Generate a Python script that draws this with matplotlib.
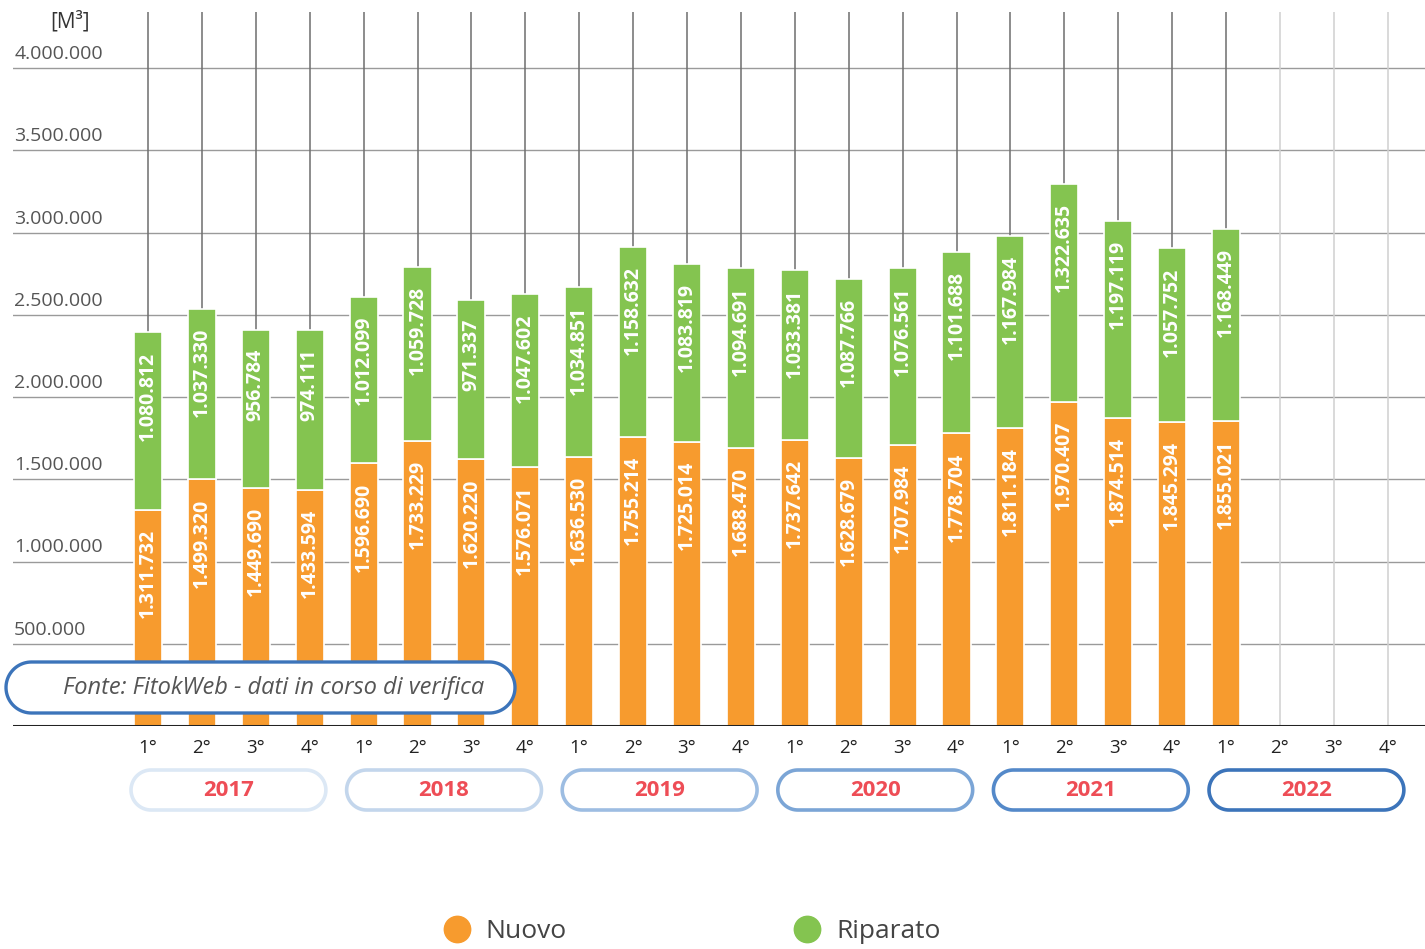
import matplotlib
matplotlib.use("Agg")
import numpy as np
import matplotlib.pyplot as plt
from matplotlib.patches import PathPatch
from matplotlib.path import Path
from matplotlib.lines import Line2D
import matplotlib.transforms as mtransforms

# ---------------- data ----------------
years = ["2017", "2018", "2019", "2020", "2021", "2022"]
quarters = ["1°", "2°", "3°", "4°"]
nuovo = [1311732, 1499320, 1449690, 1433594, 1596690, 1733229, 1620220, 1576071,
         1636530, 1755214, 1725014, 1688470, 1737642, 1628679, 1707984, 1778704,
         1811184, 1970407, 1874514, 1845294, 1855021]
riparato = [1080812, 1037330, 956784, 974111, 1012099, 1059728, 971337, 1047602,
            1034851, 1158632, 1083819, 1094691, 1033381, 1087766, 1076561, 1101688,
            1167984, 1322635, 1197119, 1057752, 1168449]
y_ticks = [500000, 1000000, 1500000, 2000000, 2500000, 3000000, 3500000, 4000000]
series_names = ["Nuovo", "Riparato"]

# ---------------- style ----------------
FONT = "Open Sans"
plt.rcParams["font.family"] = [FONT, "DejaVu Sans"]
ORANGE = "#F79B2E"
GREEN = "#84C450"
pill_colors = ["#dce8f5", "#c3d6ec", "#9dbde2", "#7ba5d6", "#5489c9", "#3c74ba"]

W, H = 1425, 949
fig = plt.figure(figsize=(W / 100, H / 100), dpi=100)
ax_left, ax_right, ax_top, ax_bottom = 13, 1425, 12, 726
ax = fig.add_axes([ax_left / W, 1 - ax_bottom / H, (ax_right - ax_left) / W,
                   (ax_bottom - ax_top) / H])

n_slots = len(years) * len(quarters)
slot_w = 53.9
x_first = 148
ax.set_xlim((ax_left - x_first) / slot_w, (ax_right - x_first) / slot_w)
px_per_unit = 164.5 / 1e6
ax.set_ylim(0, (ax_bottom - ax_top) / px_per_unit)

for s in ax.spines.values():
    s.set_visible(False)
ax.set_xticks([])
ax.set_yticks([])

# horizontal grid
for v in y_ticks:
    ax.axhline(v, color="#9a9a9a", lw=1, zorder=0)
ax.axhline(0, color="#222222", lw=2.2, zorder=4)

# vertical lines
idx = list(range(n_slots))
n_data = len(nuovo)
for i in idx:
    ax.axvline(i, color="#6e6e6e" if i < n_data else "#d0d0d0", lw=1.1, zorder=0.5)

# bars
bw = 0.52
xs = list(range(n_data))
ax.bar(xs, nuovo, width=bw, color=ORANGE, edgecolor="white", lw=1.2, zorder=2)
ax.bar(xs, riparato, bottom=nuovo, width=bw, color=GREEN, edgecolor="white",
       lw=1.2, zorder=2)


def fmt(v):
    return f"{v:,}".replace(",", ".")


off = mtransforms.offset_copy(ax.transData, fig=fig, x=0, y=-19, units="dots")
for i in xs:
    ax.text(i, nuovo[i], fmt(nuovo[i]), rotation=90, ha="center", va="top",
            color="white", fontsize=14, fontweight="bold", transform=off, zorder=3)
    ax.text(i, nuovo[i] + riparato[i], fmt(riparato[i]), rotation=90, ha="center",
            va="top", color="white", fontsize=14, fontweight="bold",
            transform=off, zorder=3)

# y tick labels above gridlines
trans_y = mtransforms.blended_transform_factory(ax.transAxes, ax.transData)
trans_y = mtransforms.offset_copy(trans_y, fig=fig, x=0, y=5, units="dots")
for v in y_ticks:
    ax.text(0.0008, v, fmt(v), ha="left", va="bottom", fontsize=14,
            color="#555555", transform=trans_y)

fig.text(70 / W, 1 - 22 / H, "[M³]", ha="center", va="center", fontsize=15,
         color="#333333")

# quarter labels
trans_q = mtransforms.blended_transform_factory(ax.transData, fig.transFigure)
for i in idx:
    ax.text(i, 1 - 748 / H, quarters[i % 4], ha="center", va="center",
            fontsize=13.5, color="#222222", transform=trans_q)


def pill_path(x0, y0, w, h):
    r = h / 2.0
    t1 = np.linspace(-np.pi / 2, np.pi / 2, 40)
    t2 = np.linspace(np.pi / 2, 3 * np.pi / 2, 40)
    right = np.column_stack([x0 + w - r + r * np.cos(t1), y0 + r + r * np.sin(t1)])
    left = np.column_stack([x0 + r + r * np.cos(t2), y0 + r + r * np.sin(t2)])
    verts = np.vstack([right, left, right[:1]])
    codes = [Path.MOVETO] + [Path.LINETO] * (len(verts) - 2) + [Path.CLOSEPOLY]
    return Path(verts, codes)


fig.canvas.draw()
for k, yr in enumerate(years):
    i0 = k * 4
    x0 = ax.transData.transform((i0 - 0.315, 0))[0]
    x1 = ax.transData.transform((i0 + 3 + 0.3, 0))[0]
    y0 = H - 810
    h = 40
    p = PathPatch(pill_path(x0, y0, x1 - x0, h), transform=None,
                  facecolor="white", edgecolor=pill_colors[k], lw=2.6, zorder=5)
    fig.patches.append(p)
    fig.text(((x0 + x1) / 2) / W, (y0 + h / 2 - 1) / H, yr, ha="center",
             va="center", fontsize=16, fontweight="bold", color="#ee4d56",
             zorder=6)

# source box
sb = PathPatch(pill_path(6, H - 713, 509, 51), transform=None, facecolor="white",
               edgecolor="#3c74ba", lw=2.4, zorder=10)
fig.patches.append(sb)
fig.text(274 / W, 1 - 688 / H, "Fonte: FitokWeb - dati in corso di verifica",
         ha="center", va="center", fontsize=17, style="italic", color="#555555",
         zorder=11)

# legend
handles = [Line2D([], [], ls="none", marker="o", ms=19, color=ORANGE),
           Line2D([], [], ls="none", marker="o", ms=19, color=GREEN)]
fig.legend(handles, series_names, loc="center", bbox_to_anchor=(692 / W, 1 - 932 / H),
           ncol=2, frameon=False, fontsize=19, handlelength=1.0, handletextpad=0.6,
           columnspacing=8.6, labelcolor="#444444")

fig.savefig("out.png", dpi=100)
